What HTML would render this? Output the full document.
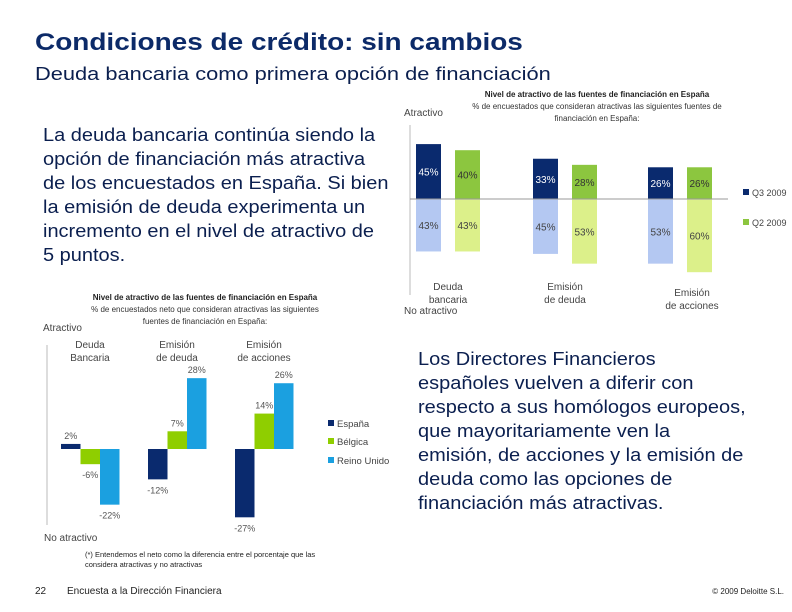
<!DOCTYPE html>
<html><head><meta charset="utf-8">
<style>
body{margin:0;width:792px;height:612px;background:#fff;position:relative;overflow:hidden;font-family:"Liberation Sans",sans-serif;}
.t{position:absolute;white-space:nowrap;color:#0b1f4f;transform-origin:0 0;}
svg{position:absolute;left:0;top:0;}
</style></head><body>
<div class="t" style="left:35px;top:29px;font-size:24px;font-weight:bold;color:#0c2a68;transform:scaleX(1.165);">Condiciones de crédito: sin cambios</div>
<div class="t" style="left:35px;top:63px;font-size:18.5px;color:#0b1f4f;transform:scaleX(1.18);">Deuda bancaria como primera opción de financiación</div>
<div class="t" style="left:43px;top:123px;font-size:18px;line-height:24px;transform:scaleX(1.11);">La deuda bancaria continúa siendo la<br>opción de financiación más atractiva<br>de los encuestados en España. Si bien<br>la emisión de deuda experimenta un<br>incremento en el nivel de atractivo de<br>5 puntos.</div>
<div class="t" style="left:418px;top:347px;font-size:18px;line-height:24px;transform:scaleX(1.11);">Los Directores Financieros<br>españoles vuelven a diferir con<br>respecto a sus homólogos europeos,<br>que mayoritariamente ven la<br>emisión, de acciones y la emisión de<br>deuda como las opciones de<br>financiación más atractivas.</div>
<div class="t" style="left:85px;top:550px;font-size:7.5px;line-height:10px;color:#222;">(*) Entendemos el neto como la diferencia entre el porcentaje que las<br>considera atractivas y no atractivas</div>
<div class="t" style="left:35px;top:586px;font-size:10px;color:#222;">22</div>
<div class="t" style="left:67px;top:586px;font-size:10px;color:#222;">Encuesta a la Dirección Financiera</div>
<div class="t" style="right:8px;top:587px;font-size:8px;color:#222;">© 2009 Deloitte S.L.</div>
<svg id="chart" width="792" height="612"></svg>
<script>
const topCats=[["Deuda","bancaria"],["Emisión","de deuda"],["Emisión","de acciones"]];
const q3Pos=[45,33,26];
const q2Pos=[40,28,26];
const q3Neg=[43,45,53];
const q2Neg=[43,53,60];
const botCats=[["Deuda","Bancaria"],["Emisión","de deuda"],["Emisión","de acciones"]];
const espana=[2,-12,-27];
const belgica=[-6,7,14];
const reino=[-22,28,26];
const NS="http://www.w3.org/2000/svg";
const svg=document.getElementById('chart');
function mk(tag,attrs,txt){const e=document.createElementNS(NS,tag);for(const k in attrs)e.setAttribute(k,attrs[k]);if(txt!==undefined)e.textContent=txt;svg.appendChild(e);return e;}
const F='"Liberation Sans",sans-serif';
// ---- top chart
const tZero=199,tS=1.22;
const ty=v=>tZero-v*tS;
const tGroupX=[416,533,648],tOff=39,tW=25;
let e;
e=mk('line',{x1:410,y1:125,x2:410,y2:295,stroke:'#bbb','stroke-width':1});

for(let i=0;i<3;i++){
  const x1=tGroupX[i],x2=x1+tOff;
  const series=[[x1,q3Pos[i],'#0a2a6e','#fff'],[x2,q2Pos[i],'#8cc63f','#333']];
  series.forEach(([x,v,c,tc],j)=>{
    e=mk('rect',{x:x,y:ty(v),width:tW,height:v*tS,fill:c});
    
    e=mk('text',{x:x+tW/2,y:ty(v/2)+4,'text-anchor':'middle','font-size':10,fill:tc,'font-family':F},v+'%');
    
  });
  const neg=[[x1,q3Neg[i],'#b4c8f2'],[x2,q2Neg[i],'#dcf08a']];
  neg.forEach(([x,v,c])=>{
    e=mk('rect',{x:x,y:tZero,width:tW,height:v*tS,fill:c});
    
    e=mk('text',{x:x+tW/2,y:ty(-v/2)+4,'text-anchor':'middle','font-size':10,fill:'#444','font-family':F},v+'%');
    
  });
  const cx=x1+(tOff+tW)/2+ (i==2?12:0);
  topCats[i].forEach((s,k)=>{
    e=mk('text',{x:cx,y:(i==2?296:290)+k*13,'text-anchor':'middle','font-size':10,fill:'#444','font-family':F},s);
    
  });
}
e=mk('line',{x1:410,y1:tZero,x2:728,y2:tZero,stroke:'#999','stroke-width':1});

[['Q3 2009','#0a2a6e',192],['Q2 2009','#8cc63f',222]].forEach(([t,c,y])=>{
  e=mk('rect',{x:743,y:y-3,width:6,height:6,fill:c});
  
  e=mk('text',{x:752,y:y+4,'font-size':9,fill:'#444','font-family':F},t);
  
});
e=mk('text',{x:404,y:116,'font-size':10,fill:'#444','font-family':F},'Atractivo');
e=mk('text',{x:404,y:314,'font-size':10,fill:'#444','font-family':F},'No atractivo');
e=mk('text',{x:597,y:97,'text-anchor':'middle','font-size':8,'font-weight':'bold',fill:'#222','font-family':F},'Nivel de atractivo de las fuentes de financiación en España');
e=mk('text',{x:597,y:109,'text-anchor':'middle','font-size':8,fill:'#333','font-family':F},'% de encuestados que consideran atractivas las siguientes fuentes de');
e=mk('text',{x:597,y:121,'text-anchor':'middle','font-size':8,fill:'#333','font-family':F},'financiación en España:');
// ---- bottom chart
const bZero=449,bS=2.53;
const by=v=>bZero-v*bS;
const bGroupX=[61,148,235],bW=19.5;
e=mk('line',{x1:47,y1:345,x2:47,y2:525,stroke:'#bbb','stroke-width':1});

const bSeries=[[espana,'#0a2a6e'],[belgica,'#8fce00'],[reino,'#1ba0e0']];
for(let i=0;i<3;i++){
  bSeries.forEach(([arr,c],j)=>{
    const v=arr[i],x=bGroupX[i]+j*bW;
    e=mk('rect',{x:x,y:Math.min(by(v),bZero),width:bW,height:Math.abs(v)*bS,fill:c});
    
    const ly=v>=0?by(v)-5:by(v)+14;
    e=mk('text',{x:x+bW/2,y:ly,'text-anchor':'middle','font-size':9,fill:'#555','font-family':F},v+'%');
    
  });
  botCats[i].forEach((s,k)=>{
    e=mk('text',{x:bGroupX[i]+29,y:348+k*13,'text-anchor':'middle','font-size':10,fill:'#444','font-family':F},s);
    
  });
}
[['España','#0a2a6e',423],['Bélgica','#8fce00',441],['Reino Unido','#1ba0e0',460]].forEach(([t,c,y])=>{
  e=mk('rect',{x:328,y:y-3,width:6,height:6,fill:c});
  
  e=mk('text',{x:337,y:y+4,'font-size':9.5,fill:'#444','font-family':F},t);
  
});
e=mk('text',{x:43,y:331,'font-size':10,fill:'#444','font-family':F},'Atractivo');
e=mk('text',{x:44,y:541,'font-size':10,fill:'#444','font-family':F},'No atractivo');
e=mk('text',{x:205,y:300,'text-anchor':'middle','font-size':8,'font-weight':'bold',fill:'#222','font-family':F},'Nivel de atractivo de las fuentes de financiación en España');
e=mk('text',{x:205,y:312,'text-anchor':'middle','font-size':8,fill:'#333','font-family':F},'% de encuestados neto que consideran atractivas las siguientes');
e=mk('text',{x:205,y:324,'text-anchor':'middle','font-size':8,fill:'#333','font-family':F},'fuentes de financiación en España:');
</script>
</body></html>
